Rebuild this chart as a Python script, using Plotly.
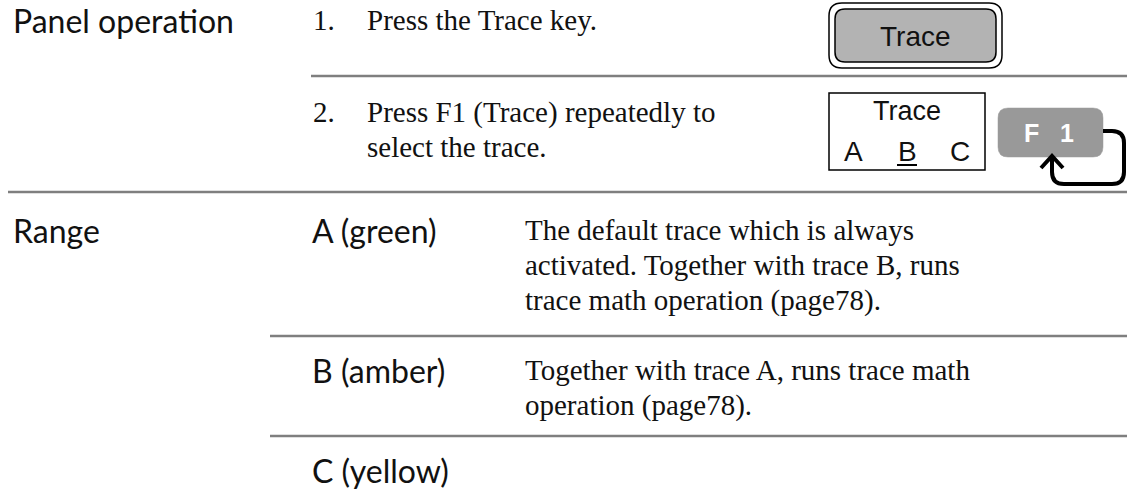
import plotly.graph_objects as go

# ---- content ----
section_labels = ["Panel operation", "Range"]
step_numbers = ["1.", "2."]
step_lines = [
    ["Press the Trace key."],
    ["Press F1 (Trace) repeatedly to", "select the trace."],
]
range_items = ["A (green)", "B (amber)", "C (yellow)"]
range_desc = [
    ["The default trace which is always",
     "activated. Together with trace B, runs",
     "trace math operation (page78)."],
    ["Together with trace A, runs trace math",
     "operation (page78)."],
    [],
]
key_label = "Trace"
menu_title = "Trace"
menu_options = ["A", "B", "C"]
menu_selected = "B"
softkey_label = "F 1"

W, H = 1127, 492
SANS = "Lato"
SERIF = "Liberation Serif"
ARIAL = "Liberation Sans"
RULE = "#7f7f7f"

fig = go.Figure()
shapes = []
ann = []


def text(x, y, s, font, size, color="#111111", xanchor="left", bold=False):
    if bold:
        s = "<b>" + s + "</b>"
    ann.append(dict(x=x, y=y, xref="x", yref="y", text=s, showarrow=False,
                    xanchor=xanchor, yanchor="middle",
                    font=dict(family=font, size=size, color=color)))


def rule(x0, y, x1=W):
    shapes.append(dict(type="line", x0=x0, x1=x1, y0=y, y1=y, xref="x", yref="y",
                       line=dict(color=RULE, width=2.5)))


def rrect(x0, y0, x1, y1, r, fill, lc, lw):
    p = (f"M {x0+r} {y0} L {x1-r} {y0} Q {x1} {y0} {x1} {y0+r} "
         f"L {x1} {y1-r} Q {x1} {y1} {x1-r} {y1} L {x0+r} {y1} "
         f"Q {x0} {y1} {x0} {y1-r} L {x0} {y0+r} Q {x0} {y0} {x0+r} {y0} Z")
    shapes.append(dict(type="path", path=p, xref="x", yref="y", fillcolor=fill,
                       line=dict(color=lc, width=lw)))


# ---- left column labels ----
text(11, 20, section_labels[0], SANS, 32)
text(11, 230, section_labels[1], SANS, 32)

# ---- steps ----
step_y = [[20], [112, 147]]
for num, lines, ys in zip(step_numbers, step_lines, step_y):
    text(311, ys[0], num, SERIF, 29)
    for ln, y in zip(lines, ys):
        text(365, y, ln, SERIF, 29)

# ---- rules ----
rule(311, 76)
rule(8, 192)
rule(270, 336)
rule(270, 436)

# ---- range table ----
item_y = [230, 370, 470]
for item, desc, y0 in zip(range_items, range_desc, item_y):
    text(310, y0, item, SANS, 32)
    for i, ln in enumerate(desc):
        text(523, y0 + i * 35, ln, SERIF, 29)

# ---- Trace hard key ----
rrect(829, 3, 1002, 68, 13, "#ffffff", "#000000", 1.5)
rrect(835, 9, 996, 62, 10, "#b3b3b3", "#000000", 1.5)
text(915, 36, key_label, ARIAL, 28, "#111111", "center")

# ---- Trace softkey menu box ----
shapes.append(dict(type="rect", x0=829, x1=985, y0=93, y1=170, xref="x", yref="y",
                   fillcolor="#ffffff", line=dict(color="#000000", width=1.5)))
text(907, 111, menu_title, ARIAL, 27, "#111111", "center")
opt_x = [853, 907, 960]
for o, x in zip(menu_options, opt_x):
    text(x, 151, o, ARIAL, 28, "#111111", "center")
    if o == menu_selected:
        shapes.append(dict(type="line", x0=x - 10, x1=x + 10, y0=165, y1=165,
                           xref="x", yref="y", line=dict(color="#000000", width=2)))

# ---- F1 key ----
rrect(998, 108, 1103, 157, 10, "#999999", "#999999", 0.5)
text(1049, 133, softkey_label.replace(" ", "\u00a0\u00a0\u00a0"), ARIAL, 25,
     "#ffffff", "center", bold=True)

# ---- loop arrow ----
shapes.append(dict(type="path", xref="x", yref="y",
                   path="M 1103 131 L 1112 131 Q 1124 131 1124 143 L 1124 172 "
                        "Q 1124 184 1112 184 L 1064 184 Q 1052 184 1052 172 L 1052 157",
                   line=dict(color="#000000", width=4)))
shapes.append(dict(type="path", xref="x", yref="y",
                   path="M 1041 168 L 1052 156 L 1063 168",
                   line=dict(color="#000000", width=4)))

fig.update_layout(
    width=W, height=H, margin=dict(l=0, r=0, t=0, b=0),
    paper_bgcolor="#ffffff", plot_bgcolor="#ffffff",
    xaxis=dict(range=[0, W], visible=False, fixedrange=True),
    yaxis=dict(range=[H, 0], visible=False, fixedrange=True),
    shapes=shapes, annotations=ann, showlegend=False,
)
fig.write_html("out.html", config={"displayModeBar": False},
               post_script="document.body.style.margin='0';"
                           "document.body.style.overflow='hidden';")
